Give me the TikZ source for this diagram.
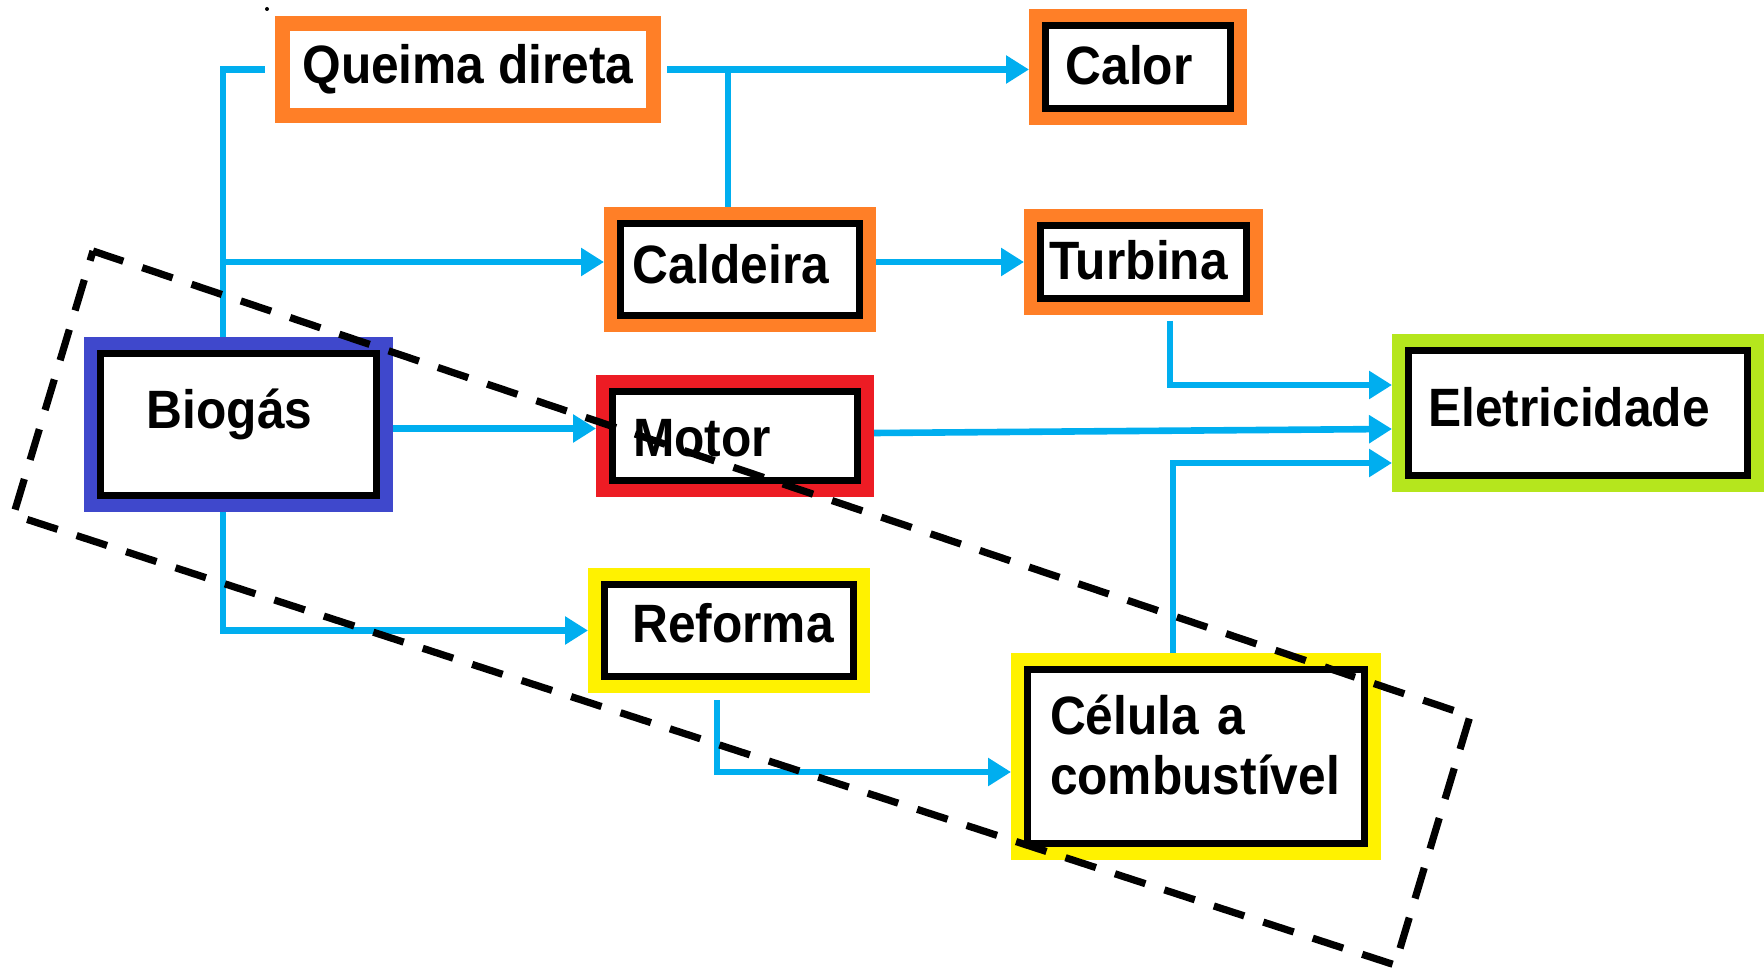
\documentclass[tikz,border=0pt]{standalone}
\usepackage{fontspec}
\usepackage{tikz}
\usetikzlibrary{arrows.meta}
\usetikzlibrary{calc}

\newfontfamily\rotulo{Liberation Sans}[FakeStretch=0.92]

\definecolor{laranja}{RGB}{255,127,39}
\definecolor{azulbio}{RGB}{63,72,204}
\definecolor{vermelho}{RGB}{237,28,36}
\definecolor{verde}{RGB}{181,230,29}
\definecolor{amarelo}{RGB}{255,242,0}
\definecolor{ciano}{RGB}{0,174,239}

\begin{document}
\begin{tikzpicture}[x=0.5pt, y=-0.5pt,
	caixa/.style={draw=black, line width=3.5pt, fill=white, inner sep=0pt, outer sep=8.25pt,
		text=black, font=\rotulo\bfseries\fontsize{27}{30}\selectfont,
		text height=20pt, text depth=6pt,
		preaction={draw=#1, line width=16.5pt}},
	recuo/.style={execute at begin node=\hspace*{#1}},
	moldura/.style={draw=laranja, line width=7.5pt, fill=white, inner sep=0pt, outer sep=3.75pt,
		text=black, font=\rotulo\bfseries\fontsize{27}{30}\selectfont},
	linha/.style={draw=ciano, line width=3.3pt},
	seta/.style={linha, -{Triangle[length=11.5pt,width=13.5pt]}},
	tracejado/.style={draw=black, line width=3.6pt, dash pattern=on 16pt off 10pt}]
	\useasboundingbox (0,0) rectangle (1764,972);

	\node[moldura, minimum width=185.5pt, minimum height=46pt] (queima) at (468,69.5) {Queima direta};
	\node[caixa=laranja, minimum width=92.5pt, minimum height=41.5pt, recuo=-9pt, text depth=2.6pt] (calor) at (1138,67) {Calor};
	\node[caixa=laranja, minimum width=119.5pt, minimum height=46pt, recuo=-9pt] (caldeira) at (740,269.5) {Caldeira};
	\node[caixa=laranja, minimum width=103pt, minimum height=36.5pt, recuo=-5pt, text depth=2.6pt] (turbina) at (1143.5,262) {Turbina};
	\node[caixa=azulbio, minimum width=138pt, minimum height=71pt, recuo=-9pt, text depth=16pt] (biogas) at (238.5,424.5) {Biogás};
	\node[caixa=vermelho, minimum width=122.5pt, minimum height=44.5pt, recuo=-33pt, text height=21pt, text depth=0pt] (motor) at (735,436) {Motor};
	\node[caixa=verde, minimum width=169.5pt, minimum height=62.5pt, recuo=-9pt] (eletricidade) at (1578,413) {Eletricidade};
	\node[caixa=amarelo, minimum width=124.5pt, minimum height=46pt, recuo=4pt, text depth=8pt] (reforma) at (729,630.5) {Reforma};
	\node[caixa=amarelo, minimum width=168.5pt, minimum height=87pt, text width=146pt, align=left,
		text height={}, text depth={}] (celula) at (1196,756.5) {Célula a\\combustível\\[-18.5pt]\mbox{}};

	\coordinate (ramo) at (223,262);

	\draw[linha] (biogas.north -| ramo) |- ([xshift=-5pt]queima.west);
	\draw[seta] (ramo) -- (ramo -| caldeira.west);
	\draw[seta] ([xshift=3pt]queima.east) -- (queima.east -| calor.west);
	\draw[linha] ([xshift=-6pt]caldeira.north) -- ([xshift=-6pt]caldeira.north |- queima.east);
	\draw[seta] (caldeira.east |- ramo) -- (turbina.west |- ramo);
	\draw[seta] ([xshift=13.25pt,yshift=-3pt]turbina.south) |- ([yshift=14pt]eletricidade.west);
	\draw[seta] ([yshift=1.5pt]motor.east) -- ([yshift=-8pt]eletricidade.west);
	\draw[seta] ([xshift=-11.5pt]celula.north) |- ([yshift=-25pt]eletricidade.west);
	\draw[seta] ([yshift=-2pt]biogas.east) -- ([yshift=-2pt]biogas.east -| motor.west);
	\draw[seta] (biogas.south -| ramo) |- (reforma.west);
	\draw[seta] ([xshift=-6pt,yshift=-3.5pt]reforma.south) |- ([yshift=-7.75pt]celula.west);

	% contorno tracejado
	\draw[tracejado] (93,251) -- (1470,716) -- (1395,965) -- (13.5,515) -- cycle;
	\fill (267,9) circle (1pt);
\end{tikzpicture}
\end{document}
